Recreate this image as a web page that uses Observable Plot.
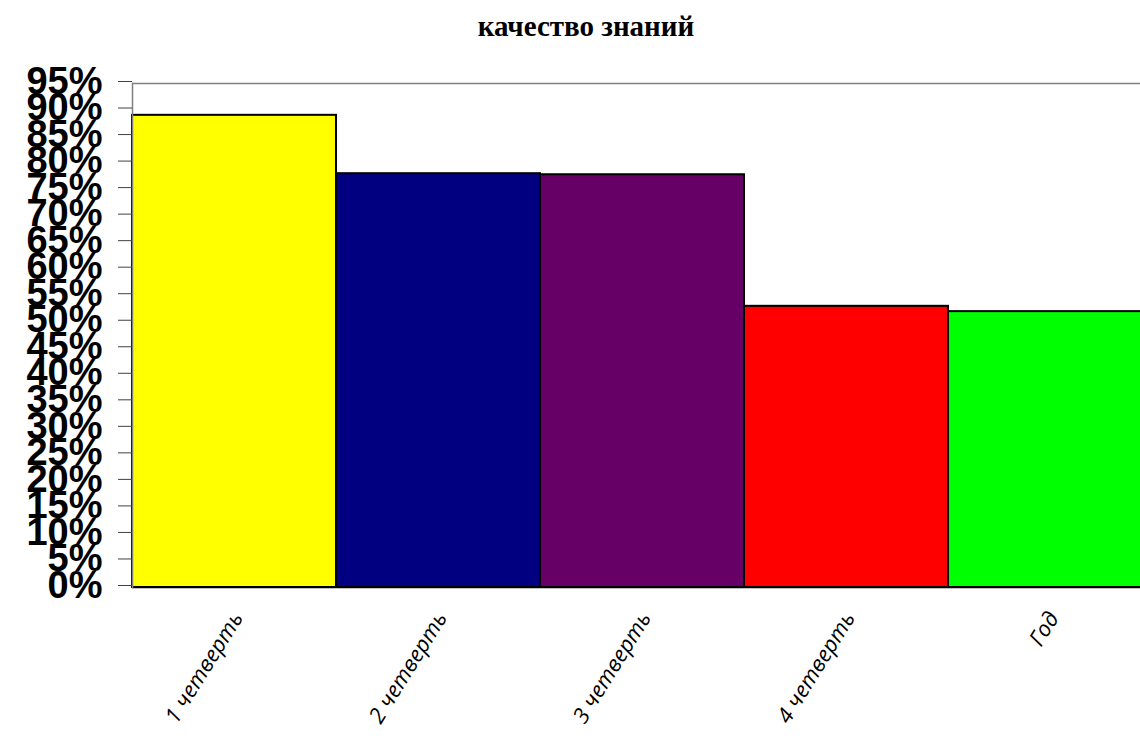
<!DOCTYPE html>
<html>
<head>
<meta charset="utf-8">
<script src="https://cdn.jsdelivr.net/npm/d3@7"></script>
<script src="https://cdn.jsdelivr.net/npm/@observablehq/plot@0.6"></script>
<style>
  html, body { margin: 0; padding: 0; background: #fff; overflow: hidden; width: 1140px; height: 742px; }
  #title { height: 50px; line-height: 52px; text-align: center; font-family: "Liberation Serif", "Times New Roman", serif; font-weight: bold; font-size: 29px; color: #000; width: 1108px; padding-left: 32px; }
  #chart svg { display: block; max-width: none !important; }
</style>
</head>
<body>
<div id="title">качество знаний</div>
<div id="chart"></div>
<script>
const categories = ["1 четверть", "2 четверть", "3 четверть", "4 четверть", "Год"];
const values = [0.89, 0.78, 0.778, 0.53, 0.52];
const colors = ["#FFFF00", "#000080", "#660066", "#FF0000", "#00FF00"];
const yTicks = d3.range(0, 20).map(i => i * 0.05);

const data = categories.map((c, i) => ({category: c, value: values[i]}));

const chart = Plot.plot({
  width: 1160,
  height: 692,
  marginLeft: 132,
  marginRight: 8,
  marginTop: 33,
  marginBottom: 155,
  style: {background: "transparent", maxWidth: "none"},
  x: {domain: categories, padding: 0, axis: null},
  y: {domain: [0, 0.95], axis: null},
  color: {domain: categories, range: colors},
  marks: [
    Plot.ruleY([0.95], {stroke: "#808080", strokeWidth: 1.5}),
    Plot.barY(data, {x: "category", y: "value", fill: "category", stroke: "#000", strokeWidth: 2}),
    Plot.ruleY([0], {stroke: "#000", strokeWidth: 1.5}),
    Plot.frame({anchor: "left", stroke: "#808080", strokeWidth: 1.5}),
    Plot.axisY({
      ticks: yTicks,
      tickSize: 14,
      tickPadding: 16,
      tickFormat: d3.format(".0%"),
      label: null,
      stroke: "#404040",
      fontSize: 38,
      fontWeight: "bold",
      fontFamily: "Liberation Sans, Arial, sans-serif",
      fill: "#000",
      dy: -2
    }),
    Plot.text(categories, {
      x: d => d,
      frameAnchor: "bottom",
      rotate: -58,
      textAnchor: "end",
      lineAnchor: "top",
      dx: -4,
      dy: 22,
      fontSize: 22,
      fontStyle: "italic",
      fontFamily: "Open Sans, Noto Sans, sans-serif",
      fill: "#000"
    })
  ]
});
document.getElementById("chart").appendChild(chart);
</script>
</body>
</html>
